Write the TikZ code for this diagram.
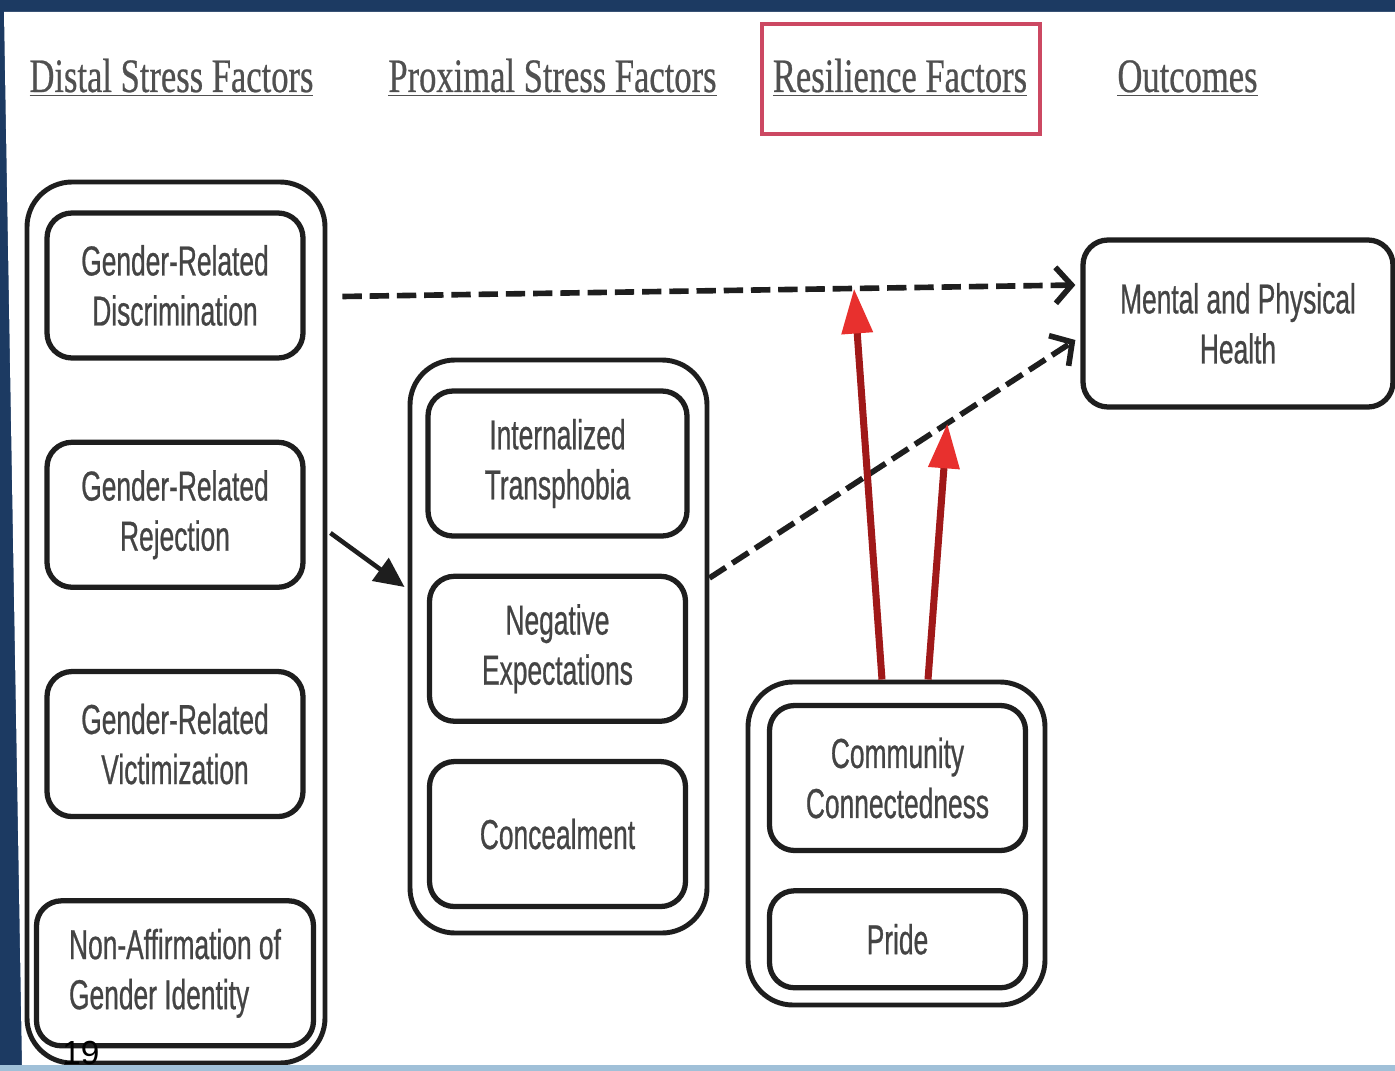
\documentclass[tikz,border=0pt]{standalone}
\usepackage{fontspec}
\usetikzlibrary{arrows.meta, positioning, calc}
\newfontfamily\boxfont[FakeStretch=0.63, FakeBold=0.6]{Liberation Sans}
\newfontfamily\headfont[FakeStretch=0.72, FakeBold=0.5]{Liberation Serif}
\newfontfamily\numfont{Liberation Sans}
\definecolor{slideblue}{RGB}{28, 58, 98}
\definecolor{slidelight}{RGB}{160, 192, 216}
\definecolor{boxline}{RGB}{30, 30, 30}
\definecolor{boxtext}{RGB}{68, 68, 68}
\definecolor{headtext}{RGB}{80, 80, 80}
\definecolor{framered}{RGB}{204, 72, 98}
\definecolor{shaftred}{RGB}{160, 25, 25}
\definecolor{headred}{RGB}{232, 48, 46}

\tikzset{
  factor/.style={draw=boxline, line width=3pt, rounded corners=0.5cm, minimum width=5.12cm, minimum height=2.9cm, align=center, text=boxtext, font=\boxfont\fontsize{23.8}{28.5}\selectfont, inner sep=0pt},
  group/.style={draw=boxline, line width=2.8pt, rounded corners=0.9cm, inner sep=0pt},
  header/.style={text=headtext, font=\headfont\fontsize{27.3}{32}\selectfont, anchor=base, inner sep=0pt},
  effect/.style={line width=3.2pt, boxline, dash pattern=on 11pt off 4.5pt, -{Straight Barb[length=0.32cm, width=0.72cm]}},
  cause/.style={line width=2.6pt, boxline, -{Triangle[length=0.6cm, width=0.55cm]}},
  buffer/.style={line width=4pt, shaftred, -{Triangle[length=0.9cm, width=0.6cm, color=headred]}},
}

\begin{document}
\begin{tikzpicture}
  \useasboundingbox (0,0) rectangle (27.9,-21.42);
  % slide frame
  \fill[slideblue] (0,0) rectangle (27.9,-21.42);
  \fill[white] (0.08,-0.24) -- (27.9,-0.24) -- (27.9,-21.30) -- (0.44,-21.30) -- cycle;

  % column headers
  \node[header] (hdistal) at (3.43,-1.84) {\underline{Distal Stress Factors}};
  \node[header] (hprox) at (11.05,-1.84) {\underline{Proximal Stress Factors}};
  \node[header] (hresil) at (18.0,-1.84) {\underline{Resilience Factors}};
  \node[header] (hout) at (23.75,-1.84) {\underline{Outcomes}};
  \node[draw=framered, line width=2.3pt, minimum width=5.56cm, minimum height=2.2cm] (resframe) at (18.02,-1.58) {};

  % distal stress factors
  \node[group, minimum width=5.96cm, minimum height=17.62cm] (distal) at (3.52,-12.45) {};
  \node[factor] (discr) at (3.50,-5.71) {Gender-Related\\Discrimination};
  \node[factor, below=1.58cm of discr] (reject) {Gender-Related\\Rejection};
  \node[factor, below=1.58cm of reject] (victim) {Gender-Related\\Victimization};
  \node[factor, below=1.58cm of victim, minimum width=5.54cm, align=left] (nonaff) {Non-Affirmation of\\Gender Identity};

  % proximal stress factors
  \node[group, minimum width=5.94cm, minimum height=11.46cm] (prox) at (11.17,-12.93) {};
  \node[factor, minimum width=5.18cm] (intern) at (11.15,-9.27) {Internalized\\Transphobia};
  \node[factor, below=0.7cm of intern] (negexp) {Negative\\Expectations};
  \node[factor, below=0.7cm of negexp] (conceal) {Concealment};

  % resilience factors
  \node[group, minimum width=5.94cm, minimum height=6.46cm] (resil) at (17.93,-16.87) {};
  \node[factor] (commun) at (17.95,-15.56) {Community\\Connectedness};
  \node[factor, below=0.7cm of commun, minimum height=1.94cm] (pride) {Pride};

  % outcome
  \node[factor, minimum width=6.2cm, minimum height=3.34cm] (health) at (24.76,-6.47) {Mental and Physical\\Health};

  % paths
  \draw[effect] ($(distal.east |- discr.east)+(0.3,-0.22)$) -- coordinate[pos=0.698] (meet1) ($(health.west)+(-0.1,0.77)$);
  \draw[effect] ($(prox.east)+(0,1.37)$) -- coordinate[pos=0.65] (meet2) ($(health.west)+(-0.1,-0.33)$);
  \draw[cause] ($(distal.east)+(0.06,1.79)$) -- ($(prox.west)+(-0.06,1.19)$);
  \draw[buffer] ($(resil.north)+(-0.29,0)$) -- (meet1);
  \draw[buffer] ($(resil.north)+(0.63,0)$) -- (meet2);

  \node[anchor=north west, inner sep=0pt, font=\numfont\fontsize{19}{22}\selectfont] (pagenum) at (1.24,-20.82) {19};
  \fill[slidelight] (0,-21.30) rectangle (27.9,-21.42);
\end{tikzpicture}
\end{document}
